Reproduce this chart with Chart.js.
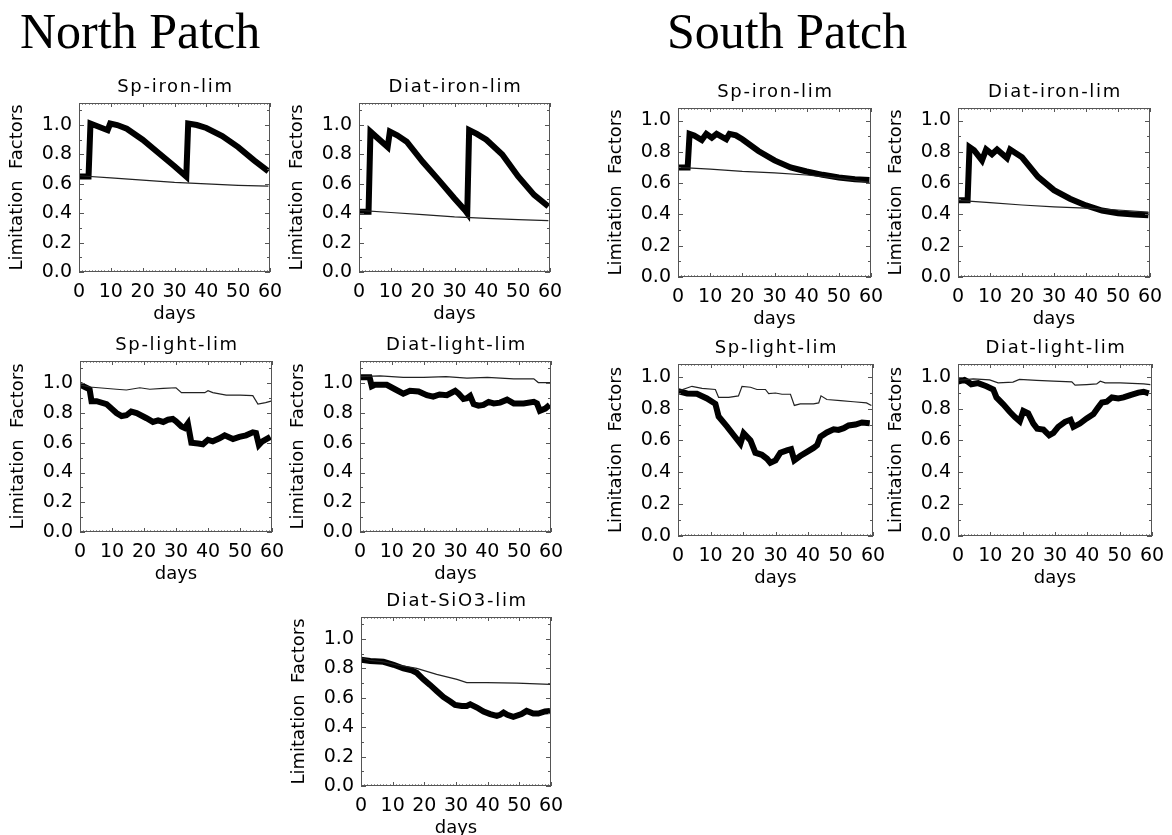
<!DOCTYPE html>
<html><head><meta charset="utf-8">
<script src="https://cdn.jsdelivr.net/npm/chart.js@4.4.1/dist/chart.umd.min.js"></script>
<style>
html,body{margin:0;padding:0;background:#fff;width:1172px;height:835px;overflow:hidden;position:relative;}
.hdr{position:absolute;font-family:"Liberation Serif","Times New Roman",serif;font-size:50px;line-height:50px;color:#000;white-space:nowrap;}
canvas{position:absolute;}
</style></head><body>
<div class="hdr" style="left:20px;top:6px">North Patch</div>
<div class="hdr" style="left:667px;top:6px">South Patch</div>
<script>
// ---- tick labels ----
const xTickValues = [0, 10, 20, 30, 40, 50, 60];
const yTickValues = [0.0, 0.2, 0.4, 0.6, 0.8, 1.0];

// ---- series: [day, limitation factor] ----
// North patch
const northSpIronThick = [[0,0.65],[3,0.65],[3.6,1.01],[9,0.965],[9.8,1.01],[12,1.0],[15,0.975],[20,0.90],[25,0.81],[30,0.72],[33.7,0.65],[34.3,1.01],[37,1.0],[40,0.98],[45,0.925],[50,0.85],[55,0.76],[59.5,0.685]];
const northSpIronThin  = [[0,0.655],[10,0.64],[20,0.625],[30,0.61],[40,0.60],[50,0.59],[59.5,0.585]];
const northDiatIronThick = [[0,0.41],[3,0.41],[3.6,0.955],[9,0.85],[9.7,0.955],[12,0.93],[15,0.887],[20,0.75],[25,0.627],[30,0.50],[33.3,0.42],[34,0.40],[34.6,0.966],[37,0.94],[40,0.90],[45,0.80],[50,0.65],[55,0.525],[59.5,0.446]];
const northDiatIronThin  = [[0,0.42],[10,0.405],[20,0.39],[30,0.375],[40,0.365],[50,0.357],[59.5,0.35]];
const northSpLightThick = [[0,0.99],[1.5,0.975],[3,0.96],[3.6,0.88],[5.2,0.88],[8.3,0.86],[11.4,0.80],[13,0.78],[14.5,0.785],[16,0.81],[17.7,0.80],[20.8,0.765],[22.8,0.74],[24.4,0.75],[26,0.74],[27.5,0.755],[29,0.76],[30,0.745],[31.7,0.71],[32.7,0.70],[33.7,0.73],[34.8,0.60],[36.9,0.595],[38.4,0.59],[40,0.62],[41.5,0.61],[43.6,0.63],[45.2,0.65],[47.8,0.625],[49.8,0.64],[51.9,0.65],[54,0.67],[55,0.665],[55.9,0.585],[57,0.61],[59.5,0.64]];
const northSpLightThin  = [[0,0.99],[3,0.975],[11.4,0.96],[14.5,0.955],[18.7,0.97],[21.8,0.96],[26,0.966],[30,0.97],[31.7,0.937],[35.3,0.937],[39,0.937],[40,0.95],[41.5,0.937],[45.7,0.92],[50,0.92],[54,0.917],[55.6,0.86],[58,0.87],[59.7,0.88]];
const northDiatLightThick = [[0,1.04],[3,1.04],[3.7,0.98],[4.7,0.99],[8.4,0.99],[11,0.96],[13.6,0.93],[15.7,0.95],[18.4,0.945],[21,0.92],[23,0.91],[25,0.925],[27.3,0.92],[29.9,0.95],[31,0.93],[32.5,0.895],[33.6,0.90],[34.6,0.915],[35.7,0.86],[37.2,0.85],[38.8,0.855],[40.4,0.875],[42,0.865],[44,0.87],[46.2,0.89],[48.3,0.865],[51.4,0.865],[54.6,0.875],[55.6,0.865],[56.5,0.815],[58.2,0.83],[59.6,0.855]];
const northDiatLightThin  = [[0,1.045],[6.3,1.05],[13.6,1.04],[20,1.04],[27,1.045],[33.6,1.035],[40,1.04],[48.3,1.03],[54.6,1.03],[56,1.005],[59.8,1.005]];
const northDiatSiO3Thick = [[0,0.86],[2.9,0.85],[7.1,0.845],[10.3,0.825],[13.4,0.80],[16,0.787],[17.6,0.77],[19.7,0.726],[21.8,0.688],[23.9,0.647],[26,0.606],[28.2,0.575],[29.7,0.552],[31.8,0.545],[33.4,0.545],[34.5,0.556],[36.6,0.534],[38.7,0.507],[40.8,0.489],[42.9,0.477],[43.9,0.484],[45,0.50],[46.2,0.484],[48.1,0.47],[50.7,0.489],[52.3,0.511],[54.4,0.493],[56,0.493],[58.1,0.507],[59.7,0.511]];
const northDiatSiO3Thin  = [[0,0.873],[2.9,0.855],[7.1,0.845],[11.3,0.824],[17.6,0.80],[23.9,0.76],[30.3,0.726],[33.4,0.704],[39.7,0.704],[49.2,0.70],[59.7,0.692]];
// South patch
const southSpIronThick = [[0,0.70],[3,0.70],[3.6,0.915],[5,0.905],[7.4,0.875],[8.8,0.915],[10.5,0.89],[12,0.915],[15,0.88],[16,0.915],[18,0.905],[20,0.88],[25,0.805],[30,0.745],[35,0.70],[40,0.674],[45,0.653],[50,0.636],[55,0.625],[59.5,0.62]];
const southSpIronThin  = [[0,0.70],[10,0.69],[20,0.675],[30,0.665],[40,0.652],[50,0.63],[59.5,0.605]];
const southDiatIronThick = [[0,0.49],[3,0.49],[3.6,0.83],[5,0.81],[7.5,0.745],[8.8,0.815],[10.6,0.785],[12.2,0.815],[15.3,0.76],[16.3,0.815],[20,0.765],[25,0.64],[30,0.555],[35,0.50],[40,0.457],[45,0.425],[50,0.407],[55,0.40],[59.5,0.394]];
const southDiatIronThin  = [[0,0.49],[10,0.475],[20,0.46],[30,0.448],[40,0.44],[50,0.428],[59.5,0.415]];
const southSpLightThick = [[0,0.91],[2.8,0.895],[5.8,0.893],[8.9,0.864],[11.5,0.83],[12.5,0.75],[15.1,0.687],[17.1,0.634],[19.2,0.58],[20.2,0.645],[22.3,0.60],[23.8,0.523],[25.8,0.51],[27.4,0.485],[28.4,0.46],[30,0.475],[31.5,0.523],[33.5,0.538],[34.8,0.545],[35.8,0.475],[37.6,0.502],[39.7,0.528],[41.7,0.553],[42.8,0.57],[43.8,0.623],[45.8,0.65],[47.9,0.67],[49.4,0.666],[51,0.677],[52.5,0.694],[54.6,0.70],[56.6,0.713],[59,0.708]];
const southSpLightThin  = [[0,0.91],[4.3,0.94],[7.4,0.927],[11.5,0.92],[12.5,0.87],[15.6,0.87],[18.6,0.88],[19.7,0.94],[22.3,0.934],[24.3,0.92],[26.9,0.92],[27.9,0.894],[30,0.898],[32,0.89],[34.6,0.89],[35.8,0.82],[37.6,0.83],[41.7,0.83],[43.3,0.836],[44,0.88],[45.8,0.857],[50,0.85],[54,0.843],[58,0.836],[59.5,0.82]];
const southDiatLightThick = [[0,0.97],[2,0.98],[3.1,0.968],[4.1,0.953],[6.2,0.96],[8.8,0.94],[10.9,0.92],[11.9,0.87],[14,0.827],[16,0.78],[17.6,0.747],[19.1,0.72],[20.2,0.785],[21.7,0.77],[23.3,0.706],[24.5,0.674],[26.4,0.668],[28.2,0.632],[29.5,0.647],[31,0.685],[33.1,0.717],[34.8,0.73],[35.7,0.685],[37.7,0.706],[39.8,0.738],[41.9,0.766],[43.1,0.80],[44.5,0.838],[46,0.843],[47.6,0.87],[49.6,0.864],[51.2,0.87],[53.3,0.885],[55.8,0.90],[57.4,0.906],[59,0.896]];
const southDiatLightThin  = [[0,0.977],[4.7,0.987],[9.8,0.98],[12.4,0.962],[17,0.966],[19,0.983],[24.3,0.977],[29.5,0.972],[35.2,0.968],[36.2,0.947],[39.8,0.951],[42.9,0.955],[44,0.972],[45.5,0.962],[50.2,0.962],[57.4,0.955],[59.5,0.951]];

const panelTitles = ['Sp-iron-lim','Diat-iron-lim','Sp-iron-lim','Diat-iron-lim','Sp-light-lim','Diat-light-lim','Sp-light-lim','Diat-light-lim','Diat-SiO3-lim'];
const northYMax = 1.15, southYMax = 1.08;

// ---- layout (plot-area boxes in page pixels: left, right, top, bottom) ----
const panels = [
  {title:panelTitles[0], thick:northSpIronThick,   thin:northSpIronThin,   yMax:northYMax, box:[79,270,103,272]},
  {title:panelTitles[1], thick:northDiatIronThick, thin:northDiatIronThin, yMax:northYMax, box:[359,550,103,272]},
  {title:panelTitles[2], thick:southSpIronThick,   thin:southSpIronThin,   yMax:southYMax, box:[678,871,108,277]},
  {title:panelTitles[3], thick:southDiatIronThick, thin:southDiatIronThin, yMax:southYMax, box:[958,1150,108,277]},
  {title:panelTitles[4], thick:northSpLightThick,  thin:northSpLightThin,  yMax:northYMax, box:[80,272,361,532]},
  {title:panelTitles[5], thick:northDiatLightThick,thin:northDiatLightThin,yMax:northYMax, box:[360,551,361,532]},
  {title:panelTitles[6], thick:southSpLightThick,  thin:southSpLightThin,  yMax:southYMax, box:[678,873,364,536]},
  {title:panelTitles[7], thick:southDiatLightThick,thin:southDiatLightThin,yMax:southYMax, box:[958,1152,364,536]},
  {title:panelTitles[8], thick:northDiatSiO3Thick, thin:northDiatSiO3Thin, yMax:northYMax, box:[361,551,617,786]}
];

const FONT = '"DejaVu Sans", sans-serif';
const AXW = 79, TOPH = 40, BOTH = 53, RIGHTP = 16;

const idlBox = {
  id: 'idlBox',
  afterDraw(chart, args, opts) {
    const {ctx, chartArea: a, scales: {x, y}} = chart;
    ctx.save();
    ctx.strokeStyle = '#555';
    ctx.lineWidth = 1;
    ctx.strokeRect(a.left + 0.5, a.top + 0.5, a.right - a.left - 1, a.bottom - a.top - 1);
    ctx.beginPath();
    for (let d = x.min; d <= x.max; d += 1) {
      const px = Math.round(x.getPixelForValue(d)) + 0.5;
      const len = d % 10 === 0 ? 4 : 1.6;
      ctx.moveTo(px, a.bottom); ctx.lineTo(px, a.bottom - len);
      ctx.moveTo(px, a.top); ctx.lineTo(px, a.top + len);
    }
    for (let i = 0; i * 0.1 <= y.max + 1e-9; i++) {
      const py = Math.round(y.getPixelForValue(i * 0.1)) + 0.5;
      const len = i % 2 === 0 ? 5 : 3;
      ctx.moveTo(a.left, py); ctx.lineTo(a.left + len, py);
      ctx.moveTo(a.right, py); ctx.lineTo(a.right - len, py);
    }
    ctx.stroke();
    // panel title centred over the plot box
    ctx.fillStyle = '#000';
    ctx.font = '18px ' + FONT;
    if ('letterSpacing' in ctx) ctx.letterSpacing = '1.7px';
    ctx.textAlign = 'center';
    ctx.textBaseline = 'middle';
    ctx.fillText(opts.title, (a.left + a.right) / 2 + 1, a.top - 16);
    ctx.restore();
  }
};

panels.forEach(p => {
  const [L, R, T, B] = p.box;
  const c = document.createElement('canvas');
  const w = AXW + (R - L) + RIGHTP, h = TOPH + (B - T) + BOTH;
  c.width = w; c.height = h;
  c.style.left = (L - AXW) + 'px'; c.style.top = (T - TOPH) + 'px';
  c.style.width = w + 'px'; c.style.height = h + 'px';
  document.body.appendChild(c);
  new Chart(c, {
    type: 'line',
    data: {
      datasets: [
        {data: p.thin.map(([d, v]) => ({x: d, y: v})), borderColor: '#222', borderWidth: 1.2, pointRadius: 0, tension: 0},
        {data: p.thick.map(([d, v]) => ({x: d, y: v})), borderColor: '#000', borderWidth: 6, pointRadius: 0, tension: 0}
      ]
    },
    options: {
      responsive: false, animation: false, devicePixelRatio: 1,
      layout: {padding: {left: 0, top: TOPH, right: RIGHTP, bottom: 0}},
      plugins: {
        legend: {display: false}, tooltip: {enabled: false}, title: {display: false},
        idlBox: {title: p.title}
      },
      scales: {
        x: {
          type: 'linear', min: 0, max: 60,
          grid: {display: false, drawTicks: false}, border: {display: false},
          afterBuildTicks: s => { s.ticks = xTickValues.map(v => ({value: v})); },
          afterFit: s => { s.height = BOTH; s.paddingLeft = 0; s.paddingRight = 0; },
          ticks: {color: '#000', font: {family: FONT, size: 19}, padding: 9, maxRotation: 0, autoSkip: false, callback: v => String(v)},
          title: {display: true, text: 'days', color: '#000', font: {family: FONT, size: 18}, padding: {top: 0, bottom: 0}}
        },
        y: {
          type: 'linear', min: 0, max: p.yMax,
          grid: {display: false, drawTicks: false}, border: {display: false},
          afterBuildTicks: s => { s.ticks = yTickValues.map(v => ({value: v})); },
          afterFit: s => { s.width = AXW; s.paddingTop = 0; s.paddingBottom = 0; },
          ticks: {color: '#000', font: {family: FONT, size: 19}, padding: 7, autoSkip: false, callback: v => Number(v).toFixed(1)},
          title: {display: true, text: 'Limitation  Factors', color: '#000', font: {family: FONT, size: 18}, padding: {top: 7, bottom: 0}}
        }
      }
    },
    plugins: [idlBox]
  });
});
</script>
</body></html>
